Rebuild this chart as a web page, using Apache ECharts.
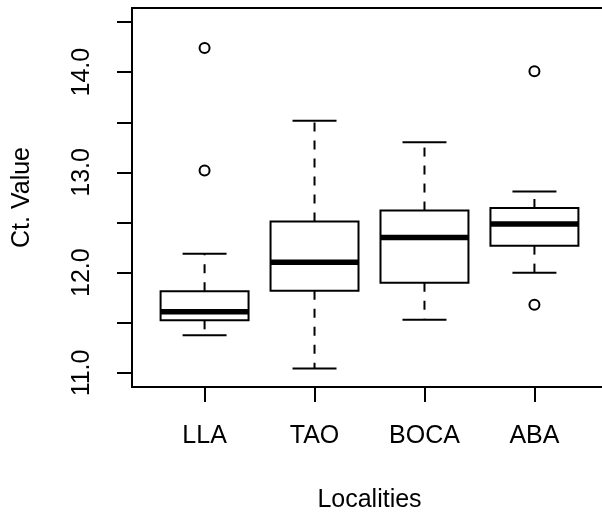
<!DOCTYPE html>
<html>
<head>
<meta charset="utf-8">
<script src="https://cdn.jsdelivr.net/npm/echarts@6/dist/echarts.min.js"></script>
<style>
  html, body { margin: 0; padding: 0; background: #fff; }
  #chart { width: 602px; height: 513px; }
</style>
</head>
<body>
<div id="chart"></div>
<script>
const categories = ["LLA", "TAO", "BOCA", "ABA"];
const lowerWhisker = [11.375, 11.045, 11.53, 12.0];
const q1 = [11.525, 11.82, 11.9, 12.27];
const median = [11.61, 12.105, 12.35, 12.485];
const q3 = [11.815, 12.51, 12.62, 12.645];
const upperWhisker = [12.19, 13.515, 13.3, 12.81];
const outlierCat = [1, 1, 4, 4];
const outlierVal = [14.24, 13.02, 14.01, 11.68];
const yTicks = [11, 11.5, 12, 12.5, 13, 13.5, 14, 14.5];
const yLabels = [11, 12, 13, 14];

const font = '"Liberation Sans", Arial, sans-serif';
const boxHalf = 0.4;
const capHalf = 0.2;

const boxData = categories.map((c, i) => [
  i + 1, lowerWhisker[i], q1[i], median[i], q3[i], upperWhisker[i]
]);
const outliers = outlierCat.map((c, i) => [c, outlierVal[i]]);

const chart = echarts.init(document.getElementById("chart"));

const line = (x1, y1, x2, y2, style) => ({
  type: "line",
  shape: { x1, y1, x2, y2 },
  style: Object.assign({ stroke: "#000", lineWidth: 2 }, style)
});

const option = {
  animation: false,
  backgroundColor: "#fff",
  grid: {
    left: 132,
    right: -5,
    top: 8,
    bottom: 126,
    containLabel: false,
    outerBoundsMode: "none",
    show: true,
    borderColor: "#000",
    borderWidth: 2,
    backgroundColor: "transparent"
  },
  xAxis: {
    type: "value",
    min: 0.34,
    max: 4.66,
    name: "Localities",
    nameLocation: "middle",
    nameGap: 101,
    nameTextStyle: { fontFamily: font, fontSize: 25, color: "#000" },
    axisLine: { show: false },
    splitLine: { show: false },
    axisTick: {
      show: true,
      length: 15,
      customValues: [1, 2, 3, 4],
      lineStyle: { color: "#000", width: 2 }
    },
    axisLabel: {
      customValues: [1, 2, 3, 4],
      margin: 37,
      fontFamily: font,
      fontSize: 25,
      color: "#000",
      formatter: v => categories[Math.round(v) - 1]
    }
  },
  yAxis: {
    type: "value",
    min: 10.86,
    max: 14.64,
    name: "Ct. Value",
    nameLocation: "middle",
    nameGap: 97,
    nameTextStyle: { fontFamily: font, fontSize: 25, color: "#000" },
    axisLine: { show: false },
    splitLine: { show: false },
    axisTick: {
      show: true,
      length: 15,
      customValues: yTicks,
      lineStyle: { color: "#000", width: 2 }
    },
    axisLabel: {
      customValues: yLabels,
      rotate: 90,
      margin: 37,
      fontFamily: font,
      fontSize: 25,
      color: "#000",
      formatter: v => v.toFixed(1)
    }
  },
  series: [
    {
      type: "custom",
      data: boxData,
      encode: { x: 0, y: [1, 2, 3, 4, 5] },
      renderItem: (params, api) => {
        const x = api.value(0);
        const yAt = v => api.coord([x, v])[1];
        const xAt = d => api.coord([x + d, 0])[0];
        const xc = xAt(0), xl = xAt(-boxHalf), xr = xAt(boxHalf);
        const cl = xAt(-capHalf), cr = xAt(capHalf);
        const lo = yAt(api.value(1)), b1 = yAt(api.value(2));
        const md = yAt(api.value(3)), b3 = yAt(api.value(4));
        const hi = yAt(api.value(5));
        return {
          type: "group",
          children: [
            line(xc, b3, xc, hi, { lineDash: [9, 9] }),
            line(xc, b1, xc, lo, { lineDash: [9, 9] }),
            line(cl, hi, cr, hi),
            line(cl, lo, cr, lo),
            {
              type: "rect",
              shape: { x: xl, y: b3, width: xr - xl, height: b1 - b3 },
              style: { fill: "#fff", stroke: "#000", lineWidth: 2 }
            },
            line(xl, md, xr, md, { lineWidth: 5.5 })
          ]
        };
      }
    },
    {
      type: "scatter",
      data: outliers,
      symbol: "circle",
      symbolSize: 10,
      itemStyle: { color: "#fff", borderColor: "#000", borderWidth: 2, opacity: 1 }
    }
  ]
};

chart.setOption(option);
</script>
</body>
</html>
